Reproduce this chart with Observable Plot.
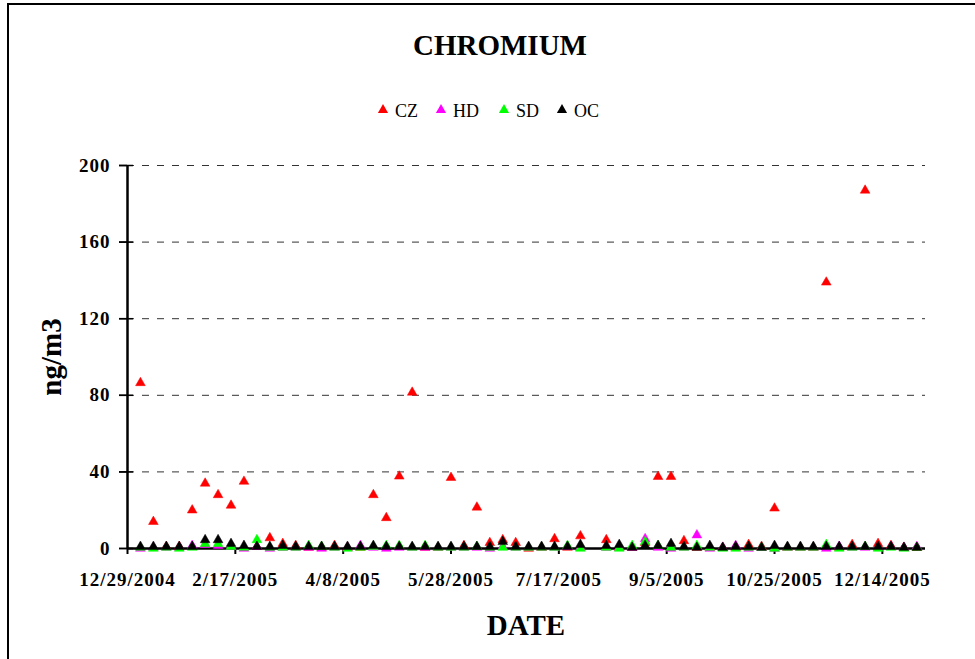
<!DOCTYPE html>
<html>
<head>
<meta charset="utf-8">
<script src="https://cdn.jsdelivr.net/npm/d3@7"></script>
<script src="https://cdn.jsdelivr.net/npm/@observablehq/plot@0.6"></script>
<style>
  html, body { margin: 0; padding: 0; background: #fff; overflow: hidden; }
  #wrap { position: relative; width: 975px; height: 659px; }
  #frame { position: absolute; left: 7px; top: 3px; width: 1000px; height: 700px; border-left: 2px solid #000; border-top: 2px solid #000; }
  #chart { position: absolute; left: 0; top: 0; }
  #overlay { position: absolute; left: 0; top: 0; pointer-events: none; }
</style>
</head>
<body>
<div id="wrap">
  <div id="frame"></div>
  <div id="chart"></div>
  <svg id="overlay" width="975" height="659"></svg>
</div>
<script>
// ---- data ----
const dates = ["2005-01-04","2005-01-10","2005-01-16","2005-01-22","2005-01-28","2005-02-03","2005-02-09","2005-02-15","2005-02-21","2005-02-27",
  "2005-03-05","2005-03-11","2005-03-17","2005-03-23","2005-03-29","2005-04-04","2005-04-10","2005-04-16","2005-04-22","2005-04-28",
  "2005-05-04","2005-05-10","2005-05-16","2005-05-22","2005-05-28","2005-06-03","2005-06-09","2005-06-15","2005-06-21","2005-06-27",
  "2005-07-03","2005-07-09","2005-07-15","2005-07-21","2005-07-27",
  "2005-08-08","2005-08-14","2005-08-20","2005-08-26","2005-09-01","2005-09-07","2005-09-13","2005-09-19","2005-09-25","2005-10-01",
  "2005-10-07","2005-10-13","2005-10-19","2005-10-25","2005-10-31","2005-11-06","2005-11-12","2005-11-18","2005-11-24","2005-11-30",
  "2005-12-06","2005-12-12","2005-12-18","2005-12-24","2005-12-30"];

const CZ = [86.5,14,1,1,20,34,28,22.5,35,1,
  5.5,2.5,1.5,0.5,0.5,1.5,0.5,0.5,28,16,
  37.7,81.5,0.5,0.5,37,1.5,21.5,3,4.5,3,
  0,0.5,5,0.5,6.5,
  4.5,0.5,0.5,3,37.5,37.5,4,0.5,0.5,0.5,
  0.5,2,1,21,0.5,0.5,0.5,139,0.5,2,
  187,2.5,1.5,0.5,0.5];
const HD = [0,0.5,0.5,0.5,1.5,2,1.5,1,0,1,
  0,0.5,0.5,0.5,0,0.5,0.5,1.5,0.5,0,
  0.5,0.5,0.5,0.5,0.5,0.5,0.5,0,1,0.5,
  0.5,0.5,0.5,1,0.5,
  0.5,0.5,0.5,5,0.5,0,0.5,7,0,0.5,
  1.5,0,0.5,0,0.5,0.5,0.5,0,1,0.5,
  0.5,0.5,1,0.5,1];
const SD = [0.5,0,0.5,0,0.5,2.5,2.5,1,0.5,4.5,
  0.5,0.5,0.5,1.5,1,0.5,0,0.5,1,1.5,
  1.5,0.5,1.5,0.5,0.5,0.5,1,0.5,0.5,0.5,
  0.5,0.5,0.5,1.5,0,
  0.5,0,1.5,3.5,1.5,0.5,0.5,1.5,0.5,0,
  0,0.5,0.5,0,0.5,0.5,0.5,2,0,0.5,
  1,0,0.5,0,0.5];
const OC = [1,1,1,1,1,4.5,4.5,2.5,1.5,1,
  1,1.5,1,1,1,1,1,1,1.5,1,
  1,1,1,1,1,1,1,1,3.5,1,
  1,1,1,1,2,
  1.5,2,0.5,1.5,1.5,2.5,1,0.5,1.5,0.5,
  1,1,0.5,1.5,1,1,1,1,1,1,
  1,1,1,0.5,0.5];

const seriesNames = ["CZ","HD","SD","OC"];
const seriesColors = ["#ff0000","#ff00ff","#00ff00","#000000"];
const seriesValues = [CZ, HD, SD, OC];

const xTickLabels = ["2004-12-29","2005-02-17","2005-04-08","2005-05-28","2005-07-17","2005-09-05","2005-10-25","2005-12-14"];
const xDomain = ["2004-12-29","2006-01-03"];
const yTicks = [0,40,80,120,160,200];
const gridTicks = [40,80,120,160,200];

const SERIF = "'Liberation Serif', 'Times New Roman', Times, serif";

// ---- build table ----
const parse = s => new Date(s + "T00:00:00Z");
const rows = [];
seriesNames.forEach((name, si) => {
  dates.forEach((d, i) => {
    const v = seriesValues[si][i];
    if (v != null) rows.push({date: parse(d), value: v, series: name});
  });
});
const xTicks = xTickLabels.map(parse);
const fmt = d3.utcFormat("%-m/%-d/%Y");

const plot = Plot.plot({
  width: 975,
  height: 659,
  marginLeft: 127,
  marginRight: 50,
  marginTop: 165,
  marginBottom: 111,
  style: {fontFamily: SERIF, fontWeight: "bold", fontSize: "19px", letterSpacing: "1px", background: "transparent", color: "#000"},
  x: {type: "utc", domain: xDomain.map(parse)},
  y: {domain: [0, 200]},
  color: {domain: seriesNames, range: seriesColors},
  marks: [
    Plot.ruleY(gridTicks, {stroke: "#333", strokeWidth: 1, strokeDasharray: "7,8"}),
    Plot.axisY(yTicks, {tickSize: 8, tickPadding: 9, label: null, strokeWidth: 1.5}),
    Plot.axisY(yTicks, {tickSize: 14, dx: 6, text: null, label: null, strokeWidth: 1.5}),
    Plot.axisX(xTicks, {tickSize: 6, tickPadding: 18, tickFormat: fmt, label: null, strokeWidth: 2}),
    Plot.ruleX([parse(xDomain[0])], {y1: 0, y2: 200, strokeWidth: 2.5, stroke: "#000"}),
    Plot.ruleY([0], {strokeWidth: 2.5, stroke: "#000"}),
    Plot.dot(rows, {x: "date", y: "value", fill: "series", stroke: "series", strokeWidth: 0.5, symbol: "triangle", r: 3.6})
  ]
});
document.getElementById("chart").appendChild(plot);

// ---- titles and legend ----
const ov = d3.select("#overlay");
function label(sel, size, weight) {
  return sel.attr("font-family", SERIF).style("font-family", SERIF)
    .style("font-size", size + "px").style("font-weight", weight).attr("fill", "#000");
}
label(ov.append("text").attr("x", 500).attr("y", 55).attr("text-anchor", "middle"), 29, "bold").text("CHROMIUM");
label(ov.append("text").attr("x", 526).attr("y", 635).attr("text-anchor", "middle"), 29, "bold").text("DATE");
label(ov.append("text").attr("transform", "translate(61,357) rotate(-90)").attr("text-anchor", "middle"), 29, "bold").text("ng/m3");

const legendX = [383, 441, 504, 562];
seriesNames.forEach((name, i) => {
  const cx = legendX[i];
  const sym = d3.symbol(d3.symbolTriangle, 45)();
  ov.append("path").attr("d", sym).attr("transform", `translate(${cx},${110})`).attr("fill", seriesColors[i]);
  label(ov.append("text").attr("x", cx + 12).attr("y", 117), 18, "normal").text(name);
});
</script>
</body>
</html>
